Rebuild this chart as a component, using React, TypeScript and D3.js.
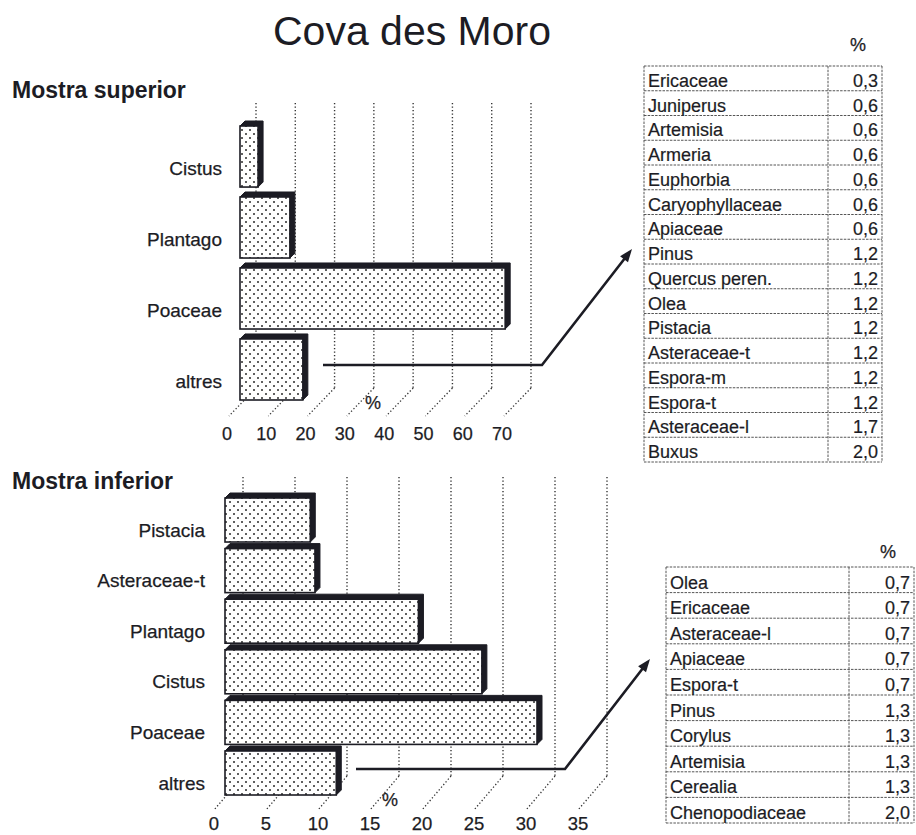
import React from "react";
import * as d3 from "d3";

const titleText = "Cova des Moro";
const topLabel = "Mostra superior";
const bottomLabel = "Mostra inferior";

const topCategories = ["Cistus", "Plantago", "Poaceae", "altres"];
const topValues = [4.6, 12.7, 67.5, 16.0];
const topTicks = [0, 10, 20, 30, 40, 50, 60, 70];

const bottomCategories = ["Pistacia", "Asteraceae-t", "Plantago", "Cistus", "Poaceae", "altres"];
const bottomValues = [8.2, 8.65, 18.6, 24.7, 30.0, 10.7];
const bottomTicks = [0, 5, 10, 15, 20, 25, 30, 35];

const topTableNames = [
  "Ericaceae", "Juniperus", "Artemisia", "Armeria", "Euphorbia", "Caryophyllaceae",
  "Apiaceae", "Pinus", "Quercus peren.", "Olea", "Pistacia", "Asteraceae-t",
  "Espora-m", "Espora-t", "Asteraceae-l", "Buxus",
];
const topTableValues = [
  "0,3", "0,6", "0,6", "0,6", "0,6", "0,6", "0,6", "1,2", "1,2", "1,2", "1,2", "1,2",
  "1,2", "1,2", "1,7", "2,0",
];
const bottomTableNames = [
  "Olea", "Ericaceae", "Asteraceae-l", "Apiaceae", "Espora-t", "Pinus", "Corylus",
  "Artemisia", "Cerealia", "Chenopodiaceae",
];
const bottomTableValues = ["0,7", "0,7", "0,7", "0,7", "0,7", "1,3", "1,3", "1,3", "1,3", "2,0"];

const FONT = "'Liberation Sans', Arial, Helvetica, sans-serif";
const INK = "#1c1c24";

type ChartCfg = {
  id: string;
  cats: string[];
  vals: number[];
  ticks: number[];
  backRange: [number, number];
  wallTop: number;
  floorBack: number;
  floorDx: number;
  floorDy: number;
  barDx: number;
  band: [number, number];
  pad: number;
  labelX: number;
  labelDy: number;
  labelSize: number;
  tickBaseline: number;
  tickSize: number;
  pct: [number, number];
  arrow: [number, number][];
};

function Chart({ c }: { c: ChartCfg }) {
  const xb = d3.scaleLinear().domain([c.ticks[0], c.ticks[c.ticks.length - 1]]).range(c.backRange);
  const y = d3.scaleBand<string>().domain(c.cats).range(c.band).paddingInner(c.pad).paddingOuter(0);
  const d = 5;
  const line = d3.line();
  const a = c.arrow;
  const p1 = a[a.length - 2];
  const p2 = a[a.length - 1];
  const ang = Math.atan2(p2[1] - p1[1], p2[0] - p1[0]);
  const hl = 13;
  const hw = 5;
  const bx = p2[0] - hl * Math.cos(ang);
  const by = p2[1] - hl * Math.sin(ang);
  const head = [
    [p2[0], p2[1]],
    [bx + hw * Math.sin(ang), by - hw * Math.cos(ang)],
    [bx - hw * Math.sin(ang), by + hw * Math.cos(ang)],
  ];
  const shaft: [number, number][] = [...a.slice(0, -1), [bx + 2 * Math.cos(ang), by + 2 * Math.sin(ang)]];
  return (
    <g>
      {c.ticks.map((t) => (
        <g key={"g" + t}>
          <line x1={xb(t)} x2={xb(t)} y1={c.wallTop} y2={c.floorBack} stroke="#333" strokeWidth={1.4} strokeDasharray="1.3 2.2" />
          <line x1={xb(t)} x2={xb(t) + c.floorDx} y1={c.floorBack} y2={c.floorBack + c.floorDy} stroke="#333" strokeWidth={1.3} strokeDasharray="1.3 2.2" />
          <text x={xb(t) - 29} y={c.tickBaseline} fontSize={c.tickSize} textAnchor="middle" fontFamily={FONT} fill={INK} stroke={INK} strokeWidth={0.25}>{t}</text>
        </g>
      ))}
      <text x={c.pct[0]} y={c.pct[1] + 6} fontSize={18} textAnchor="middle" fontFamily={FONT} fill={INK} stroke={INK} strokeWidth={0.25}>%</text>
      {c.cats.map((cat, i) => {
        const x0 = xb(0) + c.barDx;
        const x1 = xb(c.vals[i]) + c.barDx;
        const y0 = y(cat)!;
        const y1 = y0 + y.bandwidth();
        const top = `${x0},${y0} ${x0 + d},${y0 - d} ${x1 + d},${y0 - d} ${x1 + d},${y1 - d} ${x1},${y1} ${x1},${y0}`;
        return (
          <g key={cat}>
            <polygon points={top} fill={INK} stroke={INK} strokeWidth={1} strokeLinejoin="round" />
            <rect x={x0} y={y0} width={x1 - x0} height={y1 - y0} fill={`url(#dots-${c.id})`} stroke={INK} strokeWidth={1.6} />
            <text x={c.labelX} y={y0 + y.bandwidth() / 2 + c.labelDy + c.labelSize * 0.35} fontSize={c.labelSize} textAnchor="end" fontFamily={FONT} fill={INK} stroke={INK} strokeWidth={0.25}>{cat}</text>
          </g>
        );
      })}
      <path d={line(shaft) || ""} fill="none" stroke={INK} strokeWidth={2.6} />
      <polygon points={head.map((p) => p.join(",")).join(" ")} fill={INK} />
    </g>
  );
}

function Table({ x, y0, w, div, rowH, names, values, pctX, pctY }: {
  x: number; y0: number; w: number; div: number; rowH: number; names: string[]; values: string[]; pctX: number; pctY: number;
}) {
  const ys = d3.range(names.length + 1).map((i) => y0 + i * rowH);
  const yb = ys[ys.length - 1];
  const dash = "2.5 1.2";
  return (
    <g fontFamily={FONT} fill={INK}>
      <text x={pctX} y={pctY + 6} fontSize={18} textAnchor="middle" stroke={INK} strokeWidth={0.25}>%</text>
      {ys.map((yy, i) => (
        <line key={"r" + i} x1={x} x2={x + w} y1={yy} y2={yy} stroke="#555" strokeWidth={1} strokeDasharray={dash} />
      ))}
      <line x1={x} x2={x} y1={y0} y2={yb} stroke="#555" strokeWidth={1} strokeDasharray={dash} />
      <line x1={div} x2={div} y1={y0} y2={yb} stroke="#555" strokeWidth={1} strokeDasharray={dash} />
      <line x1={x + w} x2={x + w} y1={y0} y2={yb} stroke="#555" strokeWidth={1} strokeDasharray={dash} />
      {names.map((n, i) => (
        <g key={n + i} stroke={INK} strokeWidth={0.2}>
          <text x={x + 4} y={ys[i] + rowH * 0.84} fontSize={18}>{n}</text>
          <text x={x + w - 4} y={ys[i] + rowH * 0.84} fontSize={18} textAnchor="end">{values[i]}</text>
        </g>
      ))}
    </g>
  );
}

const topCfg: ChartCfg = {
  id: "top",
  cats: topCategories,
  vals: topValues,
  ticks: topTicks,
  backRange: [256, 531],
  wallTop: 103,
  floorBack: 388,
  floorDx: -27,
  floorDy: 28,
  barDx: -16,
  band: [126, 400],
  pad: 0.14,
  labelX: 222,
  labelDy: 12,
  labelSize: 19,
  tickBaseline: 440,
  tickSize: 18,
  pct: [373, 403],
  arrow: [[323, 365], [542, 365], [632, 249]],
};

const bottomCfg: ChartCfg = {
  id: "bot",
  cats: bottomCategories,
  vals: bottomValues,
  ticks: bottomTicks,
  backRange: [243, 607],
  wallTop: 477,
  floorBack: 776,
  floorDx: -29,
  floorDy: 34,
  barDx: -18,
  band: [498, 795],
  pad: 0.13,
  labelX: 205,
  labelDy: 10,
  labelSize: 19,
  tickBaseline: 830,
  tickSize: 18.5,
  pct: [390, 800],
  arrow: [[356, 769], [565, 769], [650, 659]],
};

export default function App() {
  return (
    <svg width={916} height={835} viewBox="0 0 916 835" style={{ position: "absolute", left: 0, top: 0, background: "#fff" }}>
      <defs>
        {["top", "bot"].map((id) => (
          <pattern key={id} id={`dots-${id}`} width={8} height={8} patternUnits="userSpaceOnUse">
            <rect width={8} height={8} fill="#fff" />
            <circle cx={2} cy={2} r={1} fill="#2a2a2a" />
            <circle cx={6} cy={6} r={1} fill="#2a2a2a" />
          </pattern>
        ))}
      </defs>
      <rect width={916} height={835} fill="#fff" />
      <text x={412} y={45} fontSize={41} textAnchor="middle" fontFamily={FONT} fill={INK}>{titleText}</text>
      <text x={12} y={98} fontSize={23} fontWeight="bold" fontFamily={FONT} fill={INK}>{topLabel}</text>
      <text x={12} y={489} fontSize={23} fontWeight="bold" fontFamily={FONT} fill={INK}>{bottomLabel}</text>
      <Chart c={topCfg} />
      <Chart c={bottomCfg} />
      <Table x={644} y0={66} w={238} div={828} rowH={24.75} names={topTableNames} values={topTableValues} pctX={858} pctY={45} />
      <Table x={666} y0={567} w={248} div={849} rowH={25.6} names={bottomTableNames} values={bottomTableValues} pctX={888} pctY={552} />
    </svg>
  );
}
